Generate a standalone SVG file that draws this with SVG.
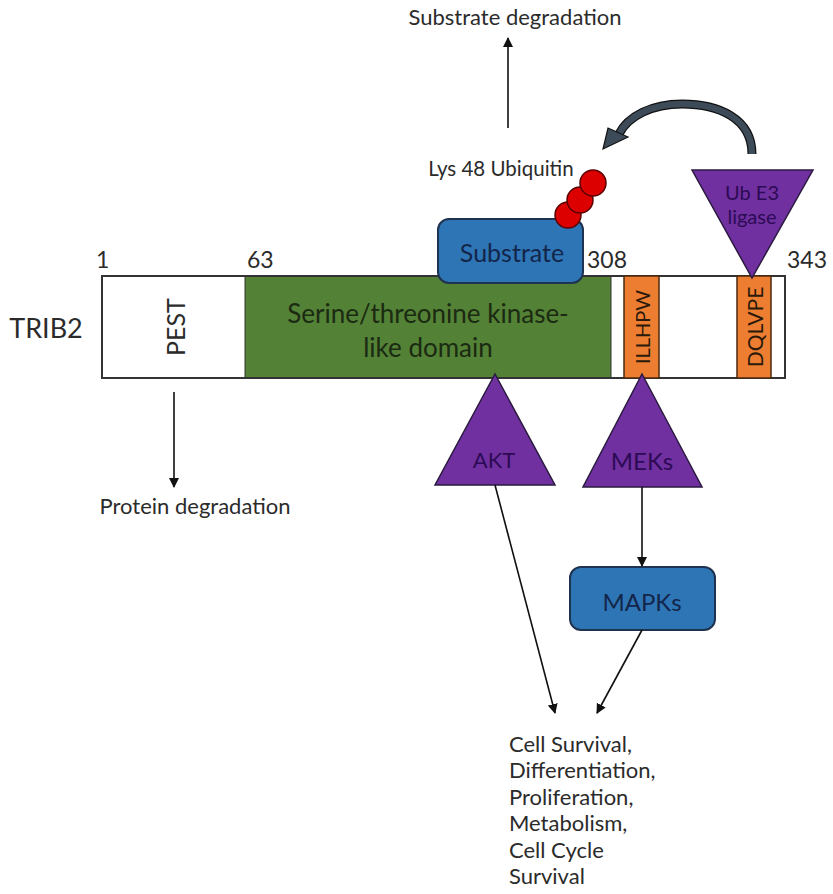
<svg xmlns="http://www.w3.org/2000/svg" width="833" height="894" viewBox="0 0 833 894">
<style>
text{font-family:Lato,"Open Sans","Liberation Sans",sans-serif;fill:#2b2b2b}
.lbl{font-size:22px}
.num{font-size:23px}
.tri{fill:#7030a0;stroke:#2a1a40;stroke-width:1.5}
.tri-t{fill:#2d0a55;text-anchor:middle}
.box{fill:#2e75b6;stroke:#1f3350;stroke-width:2}
.box-t{fill:#13264a;text-anchor:middle}
.motif{fill:#ed7d31;stroke:#4a2a10;stroke-width:1.5}
.ln{stroke:#111;stroke-width:1.6;fill:none}
.out{font-size:22px}
</style>
<defs>
<marker id="ah" viewBox="0 0 10 10" refX="9" refY="5" markerWidth="10" markerHeight="10" markerUnits="userSpaceOnUse" orient="auto">
<path d="M0,0 L10,5 L0,10 z" fill="#111"/>
</marker>
</defs>

<g id="labels">
<text class="lbl" x="515" y="25" text-anchor="middle">Substrate degradation</text>
<text x="501" y="176" text-anchor="middle" style="font-size:20.5px">Lys 48 Ubiquitin</text>
<text x="46" y="338" text-anchor="middle" style="font-size:27px">TRIB2</text>
<text class="num" x="96" y="268">1</text>
<text class="num" x="247" y="268">63</text>
<text class="num" x="587" y="268">308</text>
<text class="num" x="787" y="268">343</text>
<text class="lbl" x="195" y="514" text-anchor="middle">Protein degradation</text>
</g>

<g id="trib2">
<rect x="102" y="276" width="683" height="102" fill="#fff" stroke="#333" stroke-width="2"/>
<rect x="245" y="277" width="366" height="100" fill="#538135"/>
<line x1="245" y1="277" x2="245" y2="377" stroke="#333" stroke-width="1"/>
<line x1="611" y1="277" x2="611" y2="377" stroke="#333" stroke-width="1"/>
<text x="175" y="327" transform="rotate(-90 175 327)" text-anchor="middle" dominant-baseline="central" style="font-size:25px">PEST</text>
<text x="428" y="323" text-anchor="middle" style="font-size:26px;fill:#1b2a12">Serine/threonine kinase-</text>
<text x="428" y="357" text-anchor="middle" style="font-size:26px;fill:#1b2a12">like domain</text>
</g>

<g id="illhpw">
<rect class="motif" x="624" y="276" width="35" height="102"/>
<text x="641.5" y="327" transform="rotate(-90 641.5 327)" text-anchor="middle" dominant-baseline="central" style="font-size:20px;fill:#2b1a0a">ILLHPW</text>
</g>

<g id="dqlvpe">
<rect class="motif" x="737" y="276" width="34" height="102"/>
<text x="754" y="327" transform="rotate(-90 754 327)" text-anchor="middle" dominant-baseline="central" style="font-size:21px;fill:#2b1a0a">DQLVPE</text>
</g>

<g id="substrate">
<rect class="box" x="438" y="219" width="145" height="64" rx="11"/>
<text class="box-t" x="512" y="262" style="font-size:25px">Substrate</text>
</g>

<g id="ubiquitin">
<circle cx="568" cy="215" r="13" fill="#dd0000" stroke="#5a0000" stroke-width="1.5"/>
<circle cx="580" cy="200" r="13" fill="#dd0000" stroke="#5a0000" stroke-width="1.5"/>
<circle cx="593" cy="183" r="13" fill="#dd0000" stroke="#5a0000" stroke-width="1.5"/>
</g>

<g id="ube3">
<polygon class="tri" points="692,170 813,170 752,278"/>
<text class="tri-t" x="752" y="200" style="font-size:20px">Ub E3</text>
<text class="tri-t" x="752" y="224" style="font-size:20px">ligase</text>
</g>

<g id="akt">
<polygon class="tri" points="495,374 435,485 555,485"/>
<text class="tri-t" x="494" y="468" style="font-size:22px">AKT</text>
</g>

<g id="meks">
<polygon class="tri" points="642,374 583,487 702,487"/>
<text class="tri-t" x="642" y="470" style="font-size:24px">MEKs</text>
</g>

<g id="mapks">
<rect class="box" x="570" y="567" width="145" height="63" rx="11"/>
<text class="box-t" x="642" y="611" style="font-size:24px">MAPKs</text>
</g>

<g id="outcome">
<text class="out" x="509" y="752">Cell Survival,</text>
<text class="out" x="509" y="778">Differentiation,</text>
<text class="out" x="509" y="805">Proliferation,</text>
<text class="out" x="509" y="831">Metabolism,</text>
<text class="out" x="509" y="858">Cell Cycle</text>
<text class="out" x="509" y="884">Survival</text>
</g>

<g id="connectors">
<line class="ln" x1="508" y1="128" x2="508" y2="38" marker-end="url(#ah)"/>
<line class="ln" x1="174" y1="392" x2="174" y2="487" marker-end="url(#ah)"/>
<line class="ln" x1="642" y1="487" x2="642" y2="566" marker-end="url(#ah)"/>
<line class="ln" x1="495" y1="485" x2="555" y2="713" marker-end="url(#ah)"/>
<line class="ln" x1="642" y1="630" x2="597" y2="713" marker-end="url(#ah)"/>
<path d="M752,154 C752,118 718,104 682,104 C652,104 628,116 619,134" fill="none" stroke="#111" stroke-width="9"/>
<path d="M752,154 C752,118 718,104 682,104 C652,104 628,116 619,134" fill="none" stroke="#3d4a58" stroke-width="6.5"/>
<polygon points="628,137 608,128 603,149" fill="#3d4a58" stroke="#111" stroke-width="1.2"/>
</g>
</svg>
